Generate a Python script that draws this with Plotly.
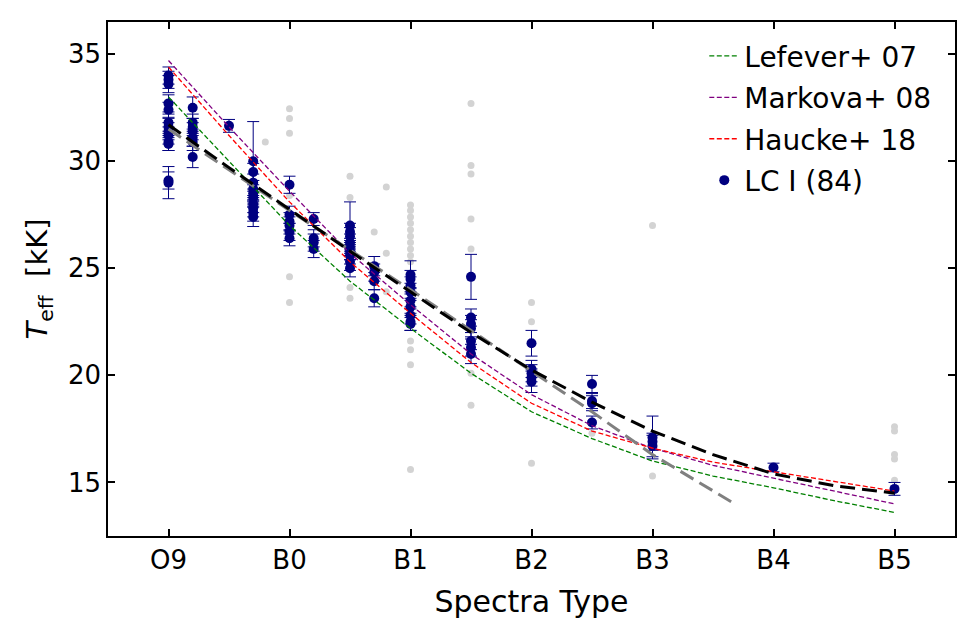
import plotly.graph_objects as go

# ---------------- data ----------------
tick_vals = [0, 1, 2, 3, 4, 5, 6]
tick_text = ["O9", "B0", "B1", "B2", "B3", "B4", "B5"]

# LC I stars (84): spectral type (numeric), Teff [kK], error [kK]
lc1_sp = ([0.0] * 13 + [0.2] * 7 + [0.5] + [0.7] * 10 + [1.0] * 6 + [1.2] * 4 +
          [1.5] * 9 + [1.7] * 4 + [2.0] * 9 + [2.5] * 7 + [3.0] * 5 + [3.5] * 4 +
          [4.0] * 3 + [5.0] + [6.0])
lc1_teff = [34.0, 33.8, 33.6, 32.7, 32.4, 31.8, 31.6, 31.4, 31.2, 30.9, 30.8, 29.1, 29.0,
            32.5, 31.8, 31.6, 31.4, 31.1, 30.9, 30.2,
            31.65,
            30.0, 29.5, 29.0, 28.7, 28.5, 28.3, 28.0, 27.8, 27.6, 27.4,
            28.9, 27.5, 27.2, 27.0, 26.7, 26.4,
            27.3, 26.4, 26.2, 25.9,
            27.0, 26.7, 26.5, 26.2, 26.0, 25.8, 25.6, 25.3, 25.0,
            25.1, 24.8, 24.4, 23.6,
            24.7, 24.5, 24.2, 23.9, 23.5, 23.2, 22.8, 22.5, 22.4,
            24.6, 22.7, 22.4, 22.2, 21.6, 21.3, 21.0,
            21.5, 20.3, 20.1, 19.9, 19.7,
            19.6, 18.8, 18.7, 17.8,
            17.1, 16.9, 16.7,
            15.7,
            14.7]
lc1_err = [0.4, 0.4, 0.4, 0.4, 0.35, 0.4, 0.4, 0.4, 0.4, 0.4, 0.3, 0.4, 0.75,
           0.5, 0.4, 0.4, 0.4, 0.4, 0.4, 0.5,
           0.3,
           1.85, 0.4, 0.4, 0.4, 0.4, 0.4, 0.4, 0.4, 0.4, 0.45,
           0.4, 0.4, 0.4, 0.4, 0.4, 0.35,
           0.3, 0.4, 0.4, 0.4,
           1.1, 0.4, 0.4, 0.4, 0.4, 0.4, 0.4, 0.4, 0.4,
           0.45, 0.4, 0.4, 0.4,
           0.65, 0.4, 0.4, 0.4, 0.4, 0.4, 0.4, 0.4, 0.3,
           1.05, 0.4, 0.4, 0.4, 0.4, 0.4, 0.45,
           0.6, 0.4, 0.4, 0.4, 0.5,
           0.4, 0.35, 0.35, 0.3,
           1.0, 0.4, 0.5,
           0.2,
           0.3]

# other stars (light gray)
other_sp = ([0.8] + [1.0] * 6 + [1.5] * 4 + [1.7] + [1.8] * 3 + [2.0] * 14 +
            [2.5] * 7 + [3.0] * 3 + [3.5] + [4.0] * 2 + [6.0] * 5)
other_teff = [30.9,
              32.45, 32.0, 31.3, 28.4, 24.6, 23.4,
              29.3, 28.3, 24.1, 23.6,
              26.7,
              28.8, 25.7, 23.9,
              27.95, 27.7, 27.4, 27.1, 26.8, 26.5, 26.2, 25.9, 25.6, 25.3, 21.6, 21.2, 20.5, 15.6,
              32.7, 29.8, 29.4, 27.3, 25.9, 20.1, 18.6,
              23.4, 22.5, 15.9,
              17.3,
              27.0, 15.3,
              17.6, 17.4, 16.3, 16.1, 15.1]

# calibrations
calib_sp = [0, 0.5, 1, 1.5, 2, 2.5, 3, 3.5, 4, 4.5, 5, 5.5, 6]
lefever07 = [33.0, 30.0, 27.0, 24.4, 22.2, 20.1, 18.3, 17.05, 16.0, 15.3, 14.75, 14.15, 13.6]
markova08 = [34.7, 31.6, 28.6, 25.7, 23.3, 21.0, 19.1, 17.65, 16.6, 15.8, 15.2, 14.6, 14.0]
haucke18 = [34.4, 31.2, 28.1, 25.3, 22.9, 20.6, 18.7, 17.4, 16.6, 15.95, 15.5, 15.05, 14.6]
fit_black = [31.7, 29.7, 27.75, 25.8, 23.9, 22.0, 20.25, 18.75, 17.4, 16.3, 15.4, 14.85, 14.5]

lin_sp = [0, 0.5, 1, 1.5, 2, 2.5, 3, 3.5, 4, 4.5, 4.68]
fit_gray = [31.5, 29.6, 27.7, 25.85, 24.0, 22.1, 20.2, 18.3, 16.3, 14.6, 14.0]

# ---------------- figure ----------------
fig = go.Figure()

fig.add_trace(go.Scatter(x=other_sp, y=other_teff, mode="markers",
                         marker=dict(color="#d3d3d3", size=7), showlegend=False,
                         hoverinfo="skip"))

fig.add_trace(go.Scatter(x=lc1_sp, y=lc1_teff, mode="markers", name="LC I (84)",
                         marker=dict(color="navy", size=10),
                         error_y=dict(type="data", array=lc1_err, color="navy",
                                      thickness=1, width=6),
                         legendrank=4, legendgroup="d"))

fig.add_trace(go.Scatter(x=calib_sp, y=lefever07, mode="lines", name="Lefever+ 07",
                         line=dict(color="green", width=1.3, dash="5px,2.5px"),
                         legendrank=1, legendgroup="a"))
fig.add_trace(go.Scatter(x=calib_sp, y=markova08, mode="lines", name="Markova+ 08",
                         line=dict(color="purple", width=1.3, dash="5px,2.5px"),
                         legendrank=2, legendgroup="b"))
fig.add_trace(go.Scatter(x=calib_sp, y=haucke18, mode="lines", name="Haucke+ 18",
                         line=dict(color="red", width=1.3, dash="5px,2.5px"),
                         legendrank=3, legendgroup="c"))

fig.add_trace(go.Scatter(x=lin_sp, y=fit_gray, mode="lines", showlegend=False,
                         line=dict(color="gray", width=3, dash="15px,7px")))
fig.add_trace(go.Scatter(x=calib_sp, y=fit_black, mode="lines", showlegend=False,
                         line=dict(color="black", width=3, dash="15px,7px")))

axis_common = dict(showline=True, linecolor="black", linewidth=1.5, mirror="allticks",
                   ticks="inside", ticklen=7, tickwidth=1.5, tickcolor="black",
                   showgrid=False, zeroline=False,
                   tickfont=dict(family="DejaVu Sans", size=26, color="black"))

fig.update_layout(
    width=975, height=629,
    margin=dict(l=100, r=28, t=12, b=101),
    plot_bgcolor="white", paper_bgcolor="white",
    font=dict(family="DejaVu Sans", size=26, color="black"),
    xaxis=dict(range=[-0.5, 6.5], tickvals=tick_vals, ticktext=tick_text,
               title=dict(text="Spectra Type", font=dict(size=30), standoff=17),
               **axis_common),
    yaxis=dict(range=[12.5, 36.5], tickvals=[15, 20, 25, 30, 35],
               title=dict(text="<i>T</i><sub>eff</sub>  [kK]", font=dict(size=29), standoff=12),
               **axis_common),
    legend=dict(x=0.704, y=0.982, xanchor="left", yanchor="top",
                bgcolor="rgba(0,0,0,0)", borderwidth=0,
                font=dict(family="DejaVu Sans", size=28, color="black"),
                traceorder="grouped", tracegroupgap=2),
)

fig.write_html("out.html")
